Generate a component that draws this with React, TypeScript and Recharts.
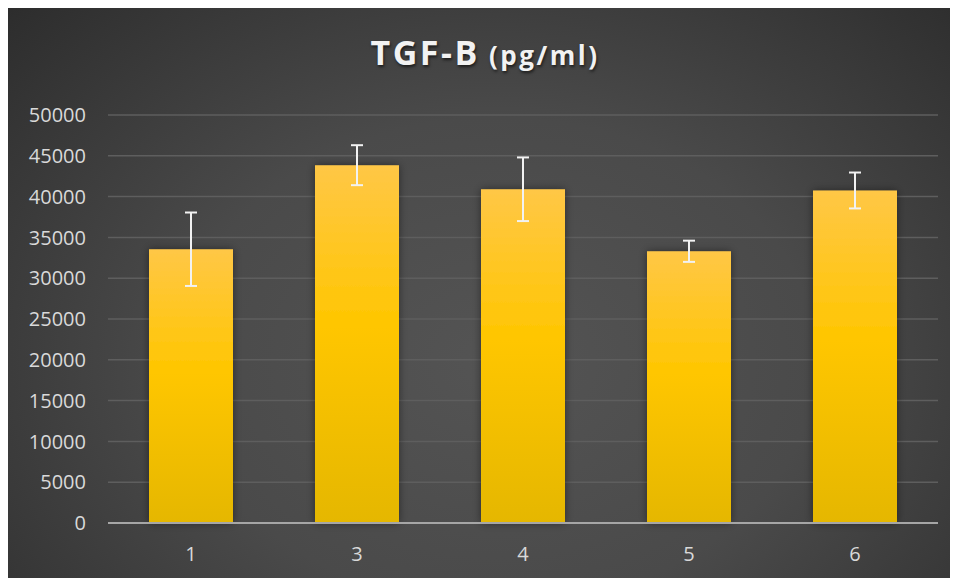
import { BarChart, Bar, XAxis, YAxis, CartesianGrid, ErrorBar } from 'recharts'

const groups = ['1', '3', '4', '5', '6']
const tgfValues = [33550, 43850, 40900, 33300, 40750]
const tgfErrors = [4500, 2450, 3900, 1300, 2200]
const yTicks = [0, 5000, 10000, 15000, 20000, 25000, 30000, 35000, 40000, 45000, 50000]

const data = groups.map((g, i) => ({ group: g, value: tgfValues[i], err: tgfErrors[i] }))

const font = '"Open Sans", "Noto Sans", sans-serif'

export default function App() {
  return (
    <div
      style={{
        position: 'relative',
        width: 942,
        height: 570,
        background: 'radial-gradient(ellipse 75% 95% at 52% 62%, #545454 0%, #4a4a4a 45%, #2a2a2a 100%)',
        fontFamily: font,
      }}
    >
      <div
        style={{
          position: 'absolute',
          top: 21,
          left: 6,
          width: '100%',
          textAlign: 'center',
          color: '#f2f2f2',
          fontWeight: 700,
          letterSpacing: 2.5,
          lineHeight: '46px',
          textShadow: '1px 2px 3px rgba(0,0,0,0.6)',
        }}
      >
        <span style={{ fontSize: 34 }}>TGF-B</span>
        <span style={{ fontSize: 26 }}> (pg/ml)</span>
      </div>
      <BarChart
        width={942}
        height={570}
        data={data}
        margin={{ top: 107, right: 12, bottom: 15, left: 0 }}
        barSize={84}
      >
        <defs>
          <linearGradient id="barFill" x1="0" y1="0" x2="0" y2="1">
            <stop offset="0%" stopColor="#ffc746" />
            <stop offset="45%" stopColor="#ffc600" />
            <stop offset="100%" stopColor="#e5b700" />
          </linearGradient>
          <filter id="barShadow" x="-20%" y="-10%" width="140%" height="120%">
            <feDropShadow dx="0" dy="0" stdDeviation="4" floodColor="#000" floodOpacity="0.45" />
          </filter>
        </defs>
        <CartesianGrid vertical={false} stroke="#5e5e5e" strokeWidth={1.5} />
        <XAxis
          dataKey="group"
          height={40}
          tickLine={false}
          tickSize={0}
          tickMargin={24}
          axisLine={{ stroke: '#a6a6a6', strokeWidth: 2 }}
          tick={{ fill: '#d9d9d9', fontSize: 20, fontFamily: font }}
        />
        <YAxis
          width={100}
          domain={[0, 50000]}
          ticks={yTicks}
          interval={0}
          axisLine={false}
          tickLine={false}
          tickSize={0}
          tickMargin={22}
          tick={{ fill: '#d9d9d9', fontSize: 20, fontFamily: font }}
        />
        <Bar dataKey="value" fill="url(#barFill)" filter="url(#barShadow)" isAnimationActive={false}>
          <ErrorBar dataKey="err" width={6} stroke="#f2f2f2" strokeWidth={2} isAnimationActive={false} />
        </Bar>
      </BarChart>
    </div>
  )
}
